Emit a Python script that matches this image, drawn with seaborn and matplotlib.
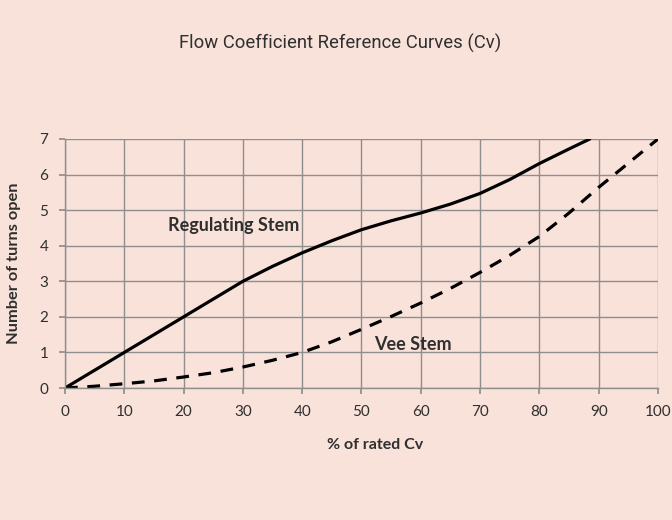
import pandas as pd
import matplotlib.pyplot as plt
import seaborn as sns

# Datos (% de Cv nominal vs. vueltas)
rated_cv = [0, 5, 10, 15, 20, 25, 30, 35, 40, 45, 50, 55, 60, 65, 70, 75, 80, 85, 88.5]
regulating_turns = [0, 0.5, 1.0, 1.5, 2.0, 2.5, 3.0, 3.42, 3.8, 4.14, 4.45, 4.7,
                    4.92, 5.17, 5.47, 5.86, 6.31, 6.72, 7.0]

vee_cv = [0, 5, 10, 15, 20, 25, 30, 35, 40, 45, 50, 55, 60, 65, 70, 75, 80, 85, 90, 95, 100]
vee_turns = [0, 0.05, 0.12, 0.2, 0.31, 0.43, 0.59, 0.78, 1.0, 1.3, 1.65, 2.01,
             2.39, 2.8, 3.25, 3.73, 4.26, 4.92, 5.64, 6.32, 7.0]

x_ticks = list(range(0, 101, 10))
y_ticks = list(range(0, 8))

bg = "#F9E2DA"
txt = "#2f2f2f"

sns.set_theme(style="whitegrid")
plt.rcParams["font.family"] = ["Lato", "DejaVu Sans"]

fig = plt.figure(figsize=(6.72, 5.2), dpi=100, facecolor=bg)
ax = fig.add_axes([0.0967, 0.2538, 0.8824, 0.4789])
ax.set_facecolor(bg)

reg_df = pd.DataFrame({"cv": rated_cv, "turns": regulating_turns})
vee_df = pd.DataFrame({"cv": vee_cv, "turns": vee_turns})

sns.lineplot(data=reg_df, x="cv", y="turns", ax=ax, color="black", linewidth=2.3,
             solid_joinstyle="round")
sns.lineplot(data=vee_df, x="cv", y="turns", ax=ax, color="black", linewidth=2.3,
             linestyle=(0, (4, 3)))

ax.set_xlim(0, 100)
ax.set_ylim(0, 7)
ax.set_xticks(x_ticks)
ax.set_yticks(y_ticks)
ax.grid(True, color="#8e8e8e", linewidth=1.0)
for s in ["top", "right"]:
    ax.spines[s].set_visible(False)
for s in ["left", "bottom"]:
    ax.spines[s].set_color("#8e8e8e")
    ax.spines[s].set_linewidth(1.0)
ax.tick_params(axis="x", bottom=True, length=4, color="#8e8e8e", labelsize=11,
               labelcolor=txt, pad=8)
ax.tick_params(axis="y", left=True, length=4, color="#8e8e8e", labelsize=11,
               labelcolor=txt, pad=8)

ax.set_xlabel("% of rated Cv", fontsize=11.5, fontweight="bold", color=txt)
ax.xaxis.set_label_coords(0.523, -0.2)
ax.set_ylabel("Number of turns open", fontsize=11.8, fontweight="bold", color=txt)
ax.yaxis.set_label_coords(-0.075, 0.5)

ax.text(28.5, 4.58, "Regulating Stem", fontsize=13, fontweight="bold",
        color=txt, ha="center", va="center")
ax.text(58.7, 1.21, "Vee Stem", fontsize=13, fontweight="bold",
        color=txt, ha="center", va="center")

fig.text(0.506, 0.917, "Flow Coefficient Reference Curves (Cv)",
         fontsize=13.3, color=txt, ha="center", va="center",
         family=["Roboto", "DejaVu Sans"])

fig.savefig("out.png", dpi=100, facecolor=bg)
